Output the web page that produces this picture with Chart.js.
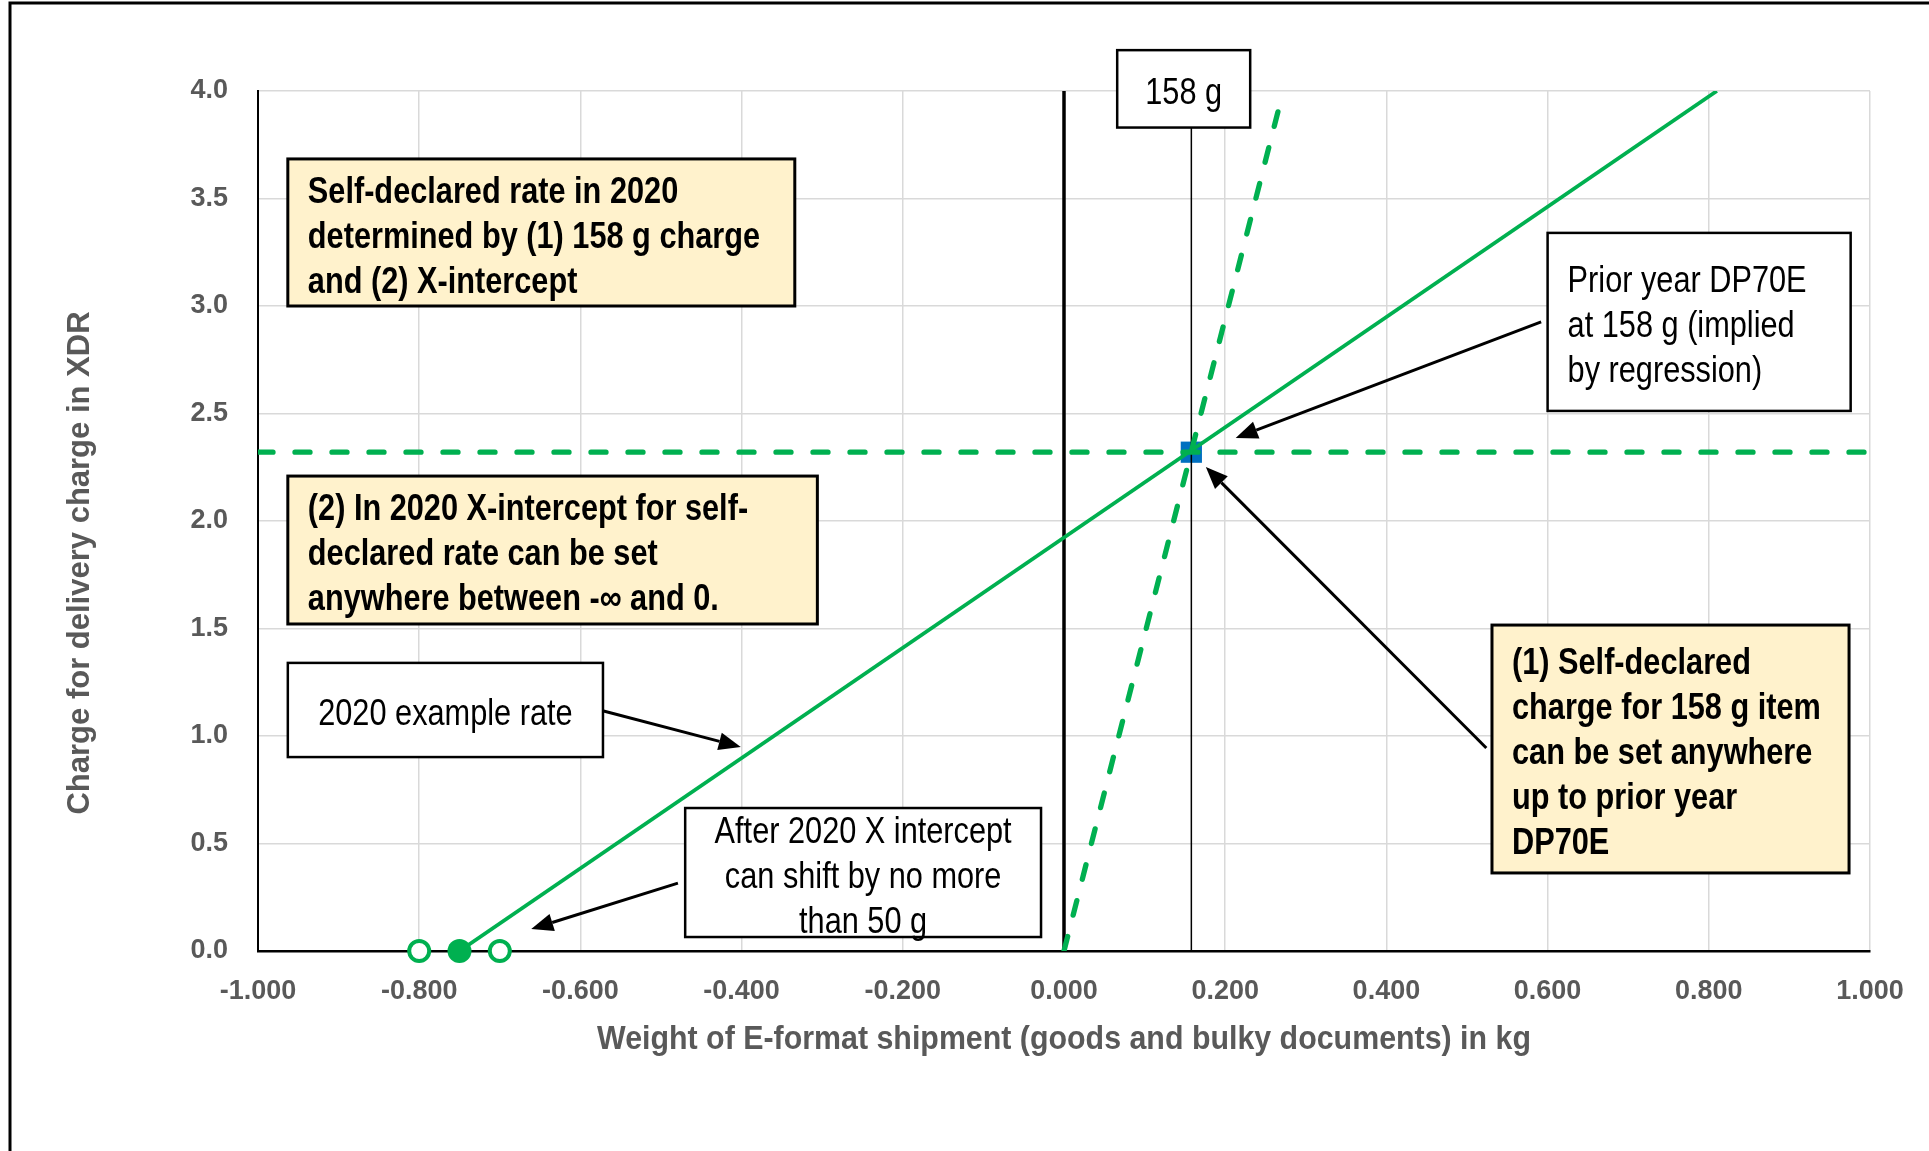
<!DOCTYPE html>
<html>
<head>
<meta charset="utf-8">
<script src="https://cdn.jsdelivr.net/npm/chart.js@4.4.1/dist/chart.umd.min.js"></script>
<style>
  html, body { margin: 0; padding: 0; background: #fff; }
</style>
</head>
<body>
<canvas id="chart" width="1929" height="1151"></canvas>
<script>
// DATA
const rateX = [-0.75, 0.81];          // 2020 example rate (solid)
const rateY = [0.0, 4.0];
const steepX = [0.0, 0.272];          // steep dashed line
const steepY = [0.0, 4.0];
const levelX = [-1.0, 1.0];           // horizontal dashed at 158 g charge
const levelY = [2.32, 2.32];
const zeroX = [0.0, 0.0];             // black line at x = 0
const zeroY = [0.0, 4.0];
const markX = [0.158, 0.158];         // thin line at 158 g
const markY = [0.0, 4.0];
const pointX = [0.158];               // prior year DP70E at 158 g
const pointY = [2.32];
const hollowX = [-0.8, -0.7];         // intercept bounds
const hollowY = [0.0, 0.0];
const filledX = [-0.75];              // 2020 intercept
const filledY = [0.0];

const xTitle = "Weight of E-format shipment (goods and bulky documents) in kg";
const yTitle = "Charge for delivery charge in XDR";

const SANS = '"Liberation Sans", Arial, sans-serif';
const GREEN = "#00B050";
const GREY = "#595959";
const YELLOW = "#FFF2CC";
const NARROW = 0.83;   // horizontal squeeze to imitate Arial Narrow

const pts = (xs, ys) => xs.map((v, i) => ({ x: v, y: ys[i] }));

// annotation boxes, corners in axis units
const boxes = [
  { x: [0.066, 0.231], y: [3.83, 4.19], fill: "#fff", bold: false, align: "center",
    lines: ["158 g"] },
  { x: [-0.963, -0.334], y: [3.0, 3.684], fill: YELLOW, bold: true, align: "left",
    lines: ["Self-declared rate in 2020", "determined by (1) 158 g charge", "and (2) X-intercept"] },
  { x: [-0.963, -0.306], y: [1.521, 2.209], fill: YELLOW, bold: true, align: "left",
    lines: ["(2) In 2020 X-intercept for self-", "declared rate can be set", "anywhere between -\u221e and 0."] },
  { x: [-0.963, -0.572], y: [0.902, 1.340], fill: "#fff", bold: false, align: "center",
    lines: ["2020 example rate"] },
  { x: [-0.470, -0.0285], y: [0.065, 0.665], fill: "#fff", bold: false, align: "center",
    lines: ["After 2020 X intercept", "can shift by no more", "than 50 g"] },
  { x: [0.600, 0.976], y: [2.512, 3.340], fill: "#fff", bold: false, align: "left",
    lines: ["Prior year DP70E", "at 158 g (implied", "by regression)"] },
  { x: [0.531, 0.974], y: [0.363, 1.516], fill: YELLOW, bold: true, align: "left",
    lines: ["(1) Self-declared", "charge for 158 g item", "can be set anywhere", "up to prior year", "DP70E"] }
];

const arrows = [
  { from: [-0.576, 1.121], to: [-0.401, 0.949] },
  { from: [-0.479, 0.316], to: [-0.661, 0.102] },
  { from: [0.592, 2.926], to: [0.213, 2.386] },
  { from: [0.524, 0.944], to: [0.176, 2.251] }
];

function narrowText(ctx, s, x, y, squeeze) {
  ctx.save();
  ctx.translate(x, y);
  ctx.scale(squeeze, 1);
  ctx.fillText(s, 0, 0);
  ctx.restore();
}

function drawArrow(ctx, x1, y1, x2, y2) {
  const ang = Math.atan2(y2 - y1, x2 - x1);
  const len = 22, half = 9;
  const bx = x2 - len * Math.cos(ang), by = y2 - len * Math.sin(ang);
  ctx.save();
  ctx.strokeStyle = "#000";
  ctx.lineWidth = 3;
  ctx.beginPath();
  ctx.moveTo(x1, y1);
  ctx.lineTo(bx, by);
  ctx.stroke();
  ctx.fillStyle = "#000";
  ctx.beginPath();
  ctx.moveTo(x2, y2);
  ctx.lineTo(bx + half * Math.sin(ang), by - half * Math.cos(ang));
  ctx.lineTo(bx - half * Math.sin(ang), by + half * Math.cos(ang));
  ctx.closePath();
  ctx.fill();
  ctx.restore();
}

function drawBox(ctx, x, y, b) {
  const l = x.getPixelForValue(b.x[0]), r = x.getPixelForValue(b.x[1]);
  const t = y.getPixelForValue(b.y[1]), btm = y.getPixelForValue(b.y[0]);
  ctx.save();
  ctx.fillStyle = b.fill;
  ctx.fillRect(l, t, r - l, btm - t);
  ctx.strokeStyle = "#000";
  ctx.lineWidth = b.bold ? 3 : 2.5;
  ctx.strokeRect(l, t, r - l, btm - t);
  ctx.fillStyle = "#000";
  ctx.font = (b.bold ? "bold " : "") + "37px " + SANS;
  ctx.textBaseline = "middle";
  ctx.textAlign = b.align;
  const lh = 45;
  const first = (t + btm) / 2 - (b.lines.length - 1) * lh / 2 + 5;
  const tx = b.align === "left" ? l + 20 : (l + r) / 2;
  b.lines.forEach((s, i) => narrowText(ctx, s, tx, first + i * lh, NARROW));
  ctx.restore();
}

const annotate = {
  id: "annotate",
  beforeDraw(chart) {
    const ctx = chart.ctx;
    ctx.save();
    ctx.strokeStyle = "#000";
    ctx.lineWidth = 3;
    ctx.beginPath();
    ctx.moveTo(10, chart.height + 5);
    ctx.lineTo(10, 3);
    ctx.lineTo(chart.width + 5, 3);
    ctx.stroke();
    ctx.restore();
  },
  afterDatasetsDraw(chart) {
    const { ctx, chartArea, scales: { x, y } } = chart;
    arrows.forEach(a => drawArrow(ctx,
      x.getPixelForValue(a.from[0]), y.getPixelForValue(a.from[1]),
      x.getPixelForValue(a.to[0]), y.getPixelForValue(a.to[1])));
    boxes.forEach(b => drawBox(ctx, x, y, b));

    // axis titles
    ctx.save();
    ctx.fillStyle = GREY;
    ctx.textAlign = "center";
    ctx.textBaseline = "middle";
    ctx.font = "bold 34px " + SANS;
    narrowText(ctx, xTitle, (chartArea.left + chartArea.right) / 2, 1040, 0.893);
    ctx.translate(80, 563);
    ctx.rotate(-Math.PI / 2);
    ctx.font = "bold 31px " + SANS;
    ctx.fillText(yTitle, 0, 0);
    ctx.restore();
  }
};

const tickFont = { family: SANS, size: 27, weight: "bold" };

new Chart(document.getElementById("chart").getContext("2d"), {
  type: "scatter",
  data: {
    datasets: [
      { data: pts(hollowX, hollowY), order: 0, clip: false, pointRadius: 10, pointBorderWidth: 4,
        pointBorderColor: GREEN, pointBackgroundColor: "#fff", showLine: false },
      { data: pts(filledX, filledY), order: 1, clip: false, pointRadius: 12, pointBorderWidth: 0,
        pointBackgroundColor: GREEN, showLine: false },
      { data: pts(rateX, rateY), order: 2, showLine: true, borderColor: GREEN, borderWidth: 3.8,
        pointRadius: 0 },
      { data: pts(steepX, steepY), order: 3, showLine: true, borderColor: GREEN, borderWidth: 5.3,
        borderDash: [15, 22], borderCapStyle: "round", pointRadius: 0 },
      { data: pts(levelX, levelY), order: 4, showLine: true, borderColor: GREEN, borderWidth: 5.3,
        borderDash: [15, 22], borderCapStyle: "round", pointRadius: 0 },
      { data: pts(markX, markY), order: 5, showLine: true, borderColor: "#000", borderWidth: 1.5,
        pointRadius: 0 },
      { data: pts(zeroX, zeroY), order: 6, showLine: true, borderColor: "#000", borderWidth: 3.5,
        pointRadius: 0 },
      { data: pts(pointX, pointY), order: 7, pointStyle: "rect", pointRadius: 15, pointBorderWidth: 0,
        pointBackgroundColor: "#0070C0", showLine: false }
    ]
  },
  options: {
    responsive: false,
    animation: false,
    layout: { padding: { top: 91, right: 59, left: 0, bottom: 0 } },
    plugins: { legend: { display: false }, tooltip: { enabled: false } },
    scales: {
      x: {
        type: "linear", min: -1, max: 1,
        ticks: { stepSize: 0.2, callback: v => v.toFixed(3), color: GREY, font: tickFont,
                 padding: 24, maxRotation: 0, autoSkip: false },
        grid: { color: "#D9D9D9", lineWidth: 1.5, drawTicks: false },
        border: { color: "#000", width: 2.5 },
        title: { display: false, text: xTitle },
        afterFit: s => { s.height = 200; }
      },
      y: {
        type: "linear", min: 0, max: 4,
        ticks: { stepSize: 0.5, callback: v => v.toFixed(1), color: GREY, font: tickFont, padding: 30 },
        grid: { color: "#D9D9D9", lineWidth: 1.5, drawTicks: false },
        border: { color: "#000", width: 2 },
        title: { display: false, text: yTitle },
        afterFit: s => { s.width = 258; }
      }
    }
  },
  plugins: [annotate]
});
</script>
</body>
</html>
